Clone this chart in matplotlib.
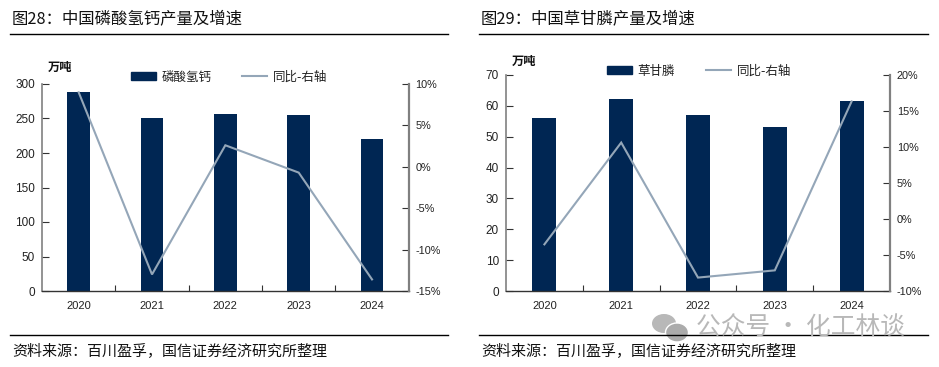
import matplotlib
matplotlib.use('Agg')
import matplotlib.pyplot as plt
from matplotlib.patches import Ellipse
from matplotlib.lines import Line2D

plt.rcParams['font.family'] = ['Liberation Sans', 'Noto Sans CJK SC']

W, H = 939, 367

years = ['2020', '2021', '2022', '2023', '2024']

# left chart
dcp_output = [288, 250, 256, 255, 220]
dcp_yoy = [9.0, -13.0, 2.6, -0.7, -13.6]
dcp_left_ticks = [0, 50, 100, 150, 200, 250, 300]
dcp_right_ticks = [-15, -10, -5, 0, 5, 10]

# right chart
glyphosate_output = [56, 62, 57, 53, 61.5]
glyphosate_yoy = [-3.5, 10.6, -8.1, -7.1, 16.3]
gly_left_ticks = [0, 10, 20, 30, 40, 50, 60, 70]
gly_right_ticks = [-10, -5, 0, 5, 10, 15, 20]

navy = '#002653'
line_col = '#94a6b8'
axis_gray = '#808080'
cjk = ['Noto Sans CJK SC', 'Liberation Sans']


def rect(x0, y0, x1, y1):
    return [x0 / W, 1 - y1 / H, (x1 - x0) / W, (y1 - y0) / H]


def panel(box, values, yoy, lticks, rticks, name, legend_xy, unit_xy):
    ax = fig.add_axes(rect(*box))
    xs = range(len(years))
    ax.bar(xs, values, width=0.31, color=navy, label=name, zorder=2)
    ax.set_xlim(-0.5, 4.5)
    ax.set_ylim(lticks[0], lticks[-1])
    ax.set_yticks(lticks)
    ax.set_yticklabels([str(v) for v in lticks], fontsize=8.5, color='#222222')
    ax.set_xticks([0.5, 1.5, 2.5, 3.5])
    ax.set_xticklabels([])
    ax.tick_params(axis='x', direction='in', length=4, width=0.8, color='#333333')
    ax.tick_params(axis='y', direction='in', length=5, width=0.8, color='#333333', pad=5)
    for i, y in enumerate(years):
        ax.annotate(y, (i, 0), xytext=(0, -10), textcoords='offset pixels', ha='center',
                    va='top', fontsize=8, color='#222222', annotation_clip=False,
                    xycoords=('data', 'axes fraction'))
    ax.spines['top'].set_visible(False)
    ax.spines['right'].set_visible(False)
    ax.spines['left'].set_color(axis_gray)
    ax.spines['left'].set_linewidth(1.2)
    ax.spines['bottom'].set_color('#333333')
    ax.spines['bottom'].set_linewidth(1)

    ax2 = ax.twinx()
    ax2.plot(xs, yoy, color=line_col, lw=1.5, zorder=3, solid_joinstyle='miter')
    ax2.set_ylim(rticks[0], rticks[-1])
    ax2.set_yticks(rticks)
    ax2.set_yticklabels(['-%d%%' % -v if v < 0 else '%d%%' % v for v in rticks],
                        fontsize=7.8, color='#222222')
    ax2.tick_params(axis='y', direction='in', length=5, width=0.8, color='#333333', pad=5)
    for s in ['top', 'left', 'bottom']:
        ax2.spines[s].set_visible(False)
    ax2.spines['right'].set_color(axis_gray)
    ax2.spines['right'].set_linewidth(1.6)

    handles = [plt.Rectangle((0, 0), 1, 1, color=navy),
               Line2D([0], [0], color=line_col, lw=1.5)]
    fig.legend(handles, [name, '同比-右轴'], loc='center',
               bbox_to_anchor=(legend_xy[0] / W, 1 - legend_xy[1] / H),
               ncol=2, frameon=False, prop={'family': cjk, 'size': 9},
               handlelength=2.0, handleheight=0.6, handletextpad=0.45, columnspacing=2.5,
               labelcolor='#222222')
    fig.text(unit_xy[0] / W, 1 - unit_xy[1] / H, '万吨', family=cjk, fontsize=8.8,
             fontweight='bold', ha='center', va='center', color='#111111')


def frame(x0, x1, title, source, src_size):
    fig.add_artist(Line2D([x0 / W, x1 / W], [1 - 34 / H] * 2, color='black', lw=1))
    fig.add_artist(Line2D([x0 / W, x1 / W], [1 - 335 / H] * 2, color='black', lw=1))
    fig.text((x0 + 2) / W, 1 - 20 / H, title, family=cjk, fontsize=11.8, va='center',
             color='#111111')
    fig.text((x0 + 2) / W, 1 - 352 / H, source, family=cjk, fontsize=src_size, va='center',
             color='#111111')


fig = plt.figure(figsize=(W / 100, H / 100), dpi=100)

panel((42, 84, 408.7, 291), dcp_output, dcp_yoy, dcp_left_ticks, dcp_right_ticks,
      '磷酸氢钙', (229, 77), (60, 67))
panel((506, 74.7, 890, 291.3), glyphosate_output, glyphosate_yoy, gly_left_ticks, gly_right_ticks,
      '草甘膦', (699, 71), (524, 61))

frame(10, 448, '图28：中国磷酸氢钙产量及增速', '资料来源：百川盈孚，国信证券经济研究所整理', 10.8)
frame(479, 928, '图29：中国草甘膦产量及增速', '资料来源：百川盈孚，国信证券经济研究所整理', 10.8)

# watermark
wm = '#b8b8b8'
fig.text(696 / W, 1 - 328 / H, '公众号 · 化工林谈', family=cjk, fontsize=17.8, va='center',
         color=wm, zorder=5)
overlay = fig.add_axes([0, 0, 1, 1], facecolor='none')
overlay.set_xlim(0, W)
overlay.set_ylim(H, 0)
overlay.axis('off')
overlay.add_patch(Ellipse((664, 323.5), 24, 19, color=wm, lw=0))
overlay.add_patch(Ellipse((677, 332.5), 23, 19, fc='#ababab', ec='white', lw=1))

fig.savefig('out.png', dpi=100)
